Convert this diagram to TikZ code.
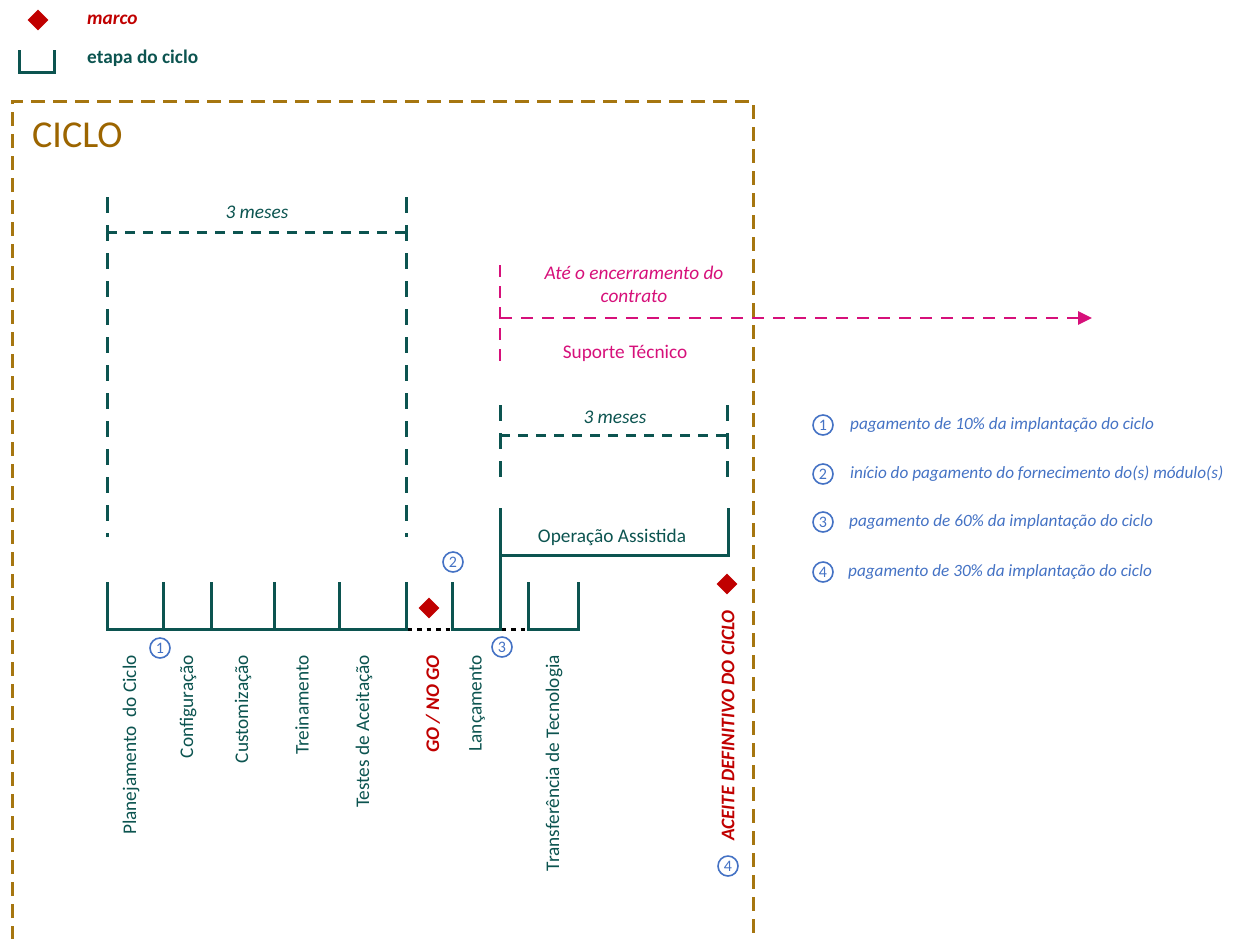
\documentclass[tikz,border=0pt]{standalone}
\usepackage{fontspec}
\setmainfont{Carlito}
\usetikzlibrary{arrows.meta,shapes.geometric}
\definecolor{tealc}{RGB}{12,84,80}
\definecolor{redc}{RGB}{192,0,0}
\definecolor{goldc}{RGB}{166,118,16}
\definecolor{cicloc}{RGB}{156,101,0}
\definecolor{magc}{RGB}{214,16,122}
\definecolor{bluec}{RGB}{68,114,196}
\tikzset{
  txt/.style={font=\fontsize{19.3}{23}\selectfont, inner sep=0pt},
  lbl/.style={txt, text=tealc, rotate=90, anchor=east},
  marcodiam/.style={diamond, fill=redc, minimum size=21pt, inner sep=0pt},
  num/.style={circle, draw=bluec, line width=1.6pt, minimum size=20pt, inner sep=0pt, text=bluec, font=\fontsize{16}{16}\selectfont},
  solidteal/.style={draw=tealc, line width=3pt},
  dashteal/.style={draw=tealc, line width=3pt, dash pattern=on 10pt off 8pt},
  vdashteal/.style={draw=tealc, line width=3pt, dash pattern=on 16pt off 12pt},
  goldline/.style={draw=goldc, line width=3pt, dash pattern=on 14pt off 8pt},
  magline/.style={draw=magc, line width=2.8pt, dash pattern=on 12pt off 9pt},
  dotline/.style={draw=black, line width=3pt, dash pattern=on 4.5pt off 5pt},
  legtxt/.style={font=\fontsize{17.2}{20}\selectfont\itshape, text=bluec, anchor=west, inner sep=0pt},
}
\begin{document}
\begin{tikzpicture}[x=1pt,y=-1pt]
\useasboundingbox (0,0) rectangle (1238,938);
% legend
\node[marcodiam] (legm) at (38,20) {};
\node[txt, anchor=west, text=redc, font=\fontsize{19.3}{23}\selectfont\bfseries\itshape] (legmt) at (87,20) {marco};
\draw[solidteal] (19,50) -- (19,72) -- (54,72) -- (54,50);
\node[txt, anchor=west, text=tealc, font=\fontsize{19.3}{23}\selectfont\bfseries] (leget) at (87,58) {etapa do ciclo};
% ciclo box
\draw[goldline] (12,940) -- (12,101) -- (753,101) -- (753,940);
\node[anchor=west, text=cicloc, font=\fontsize{38}{40}\selectfont, inner sep=0pt] (ciclo) at (32,135) {CICLO};
% top 3 meses bracket
\draw[vdashteal] (107,197) -- (107,537);
\draw[vdashteal] (406,197) -- (406,537);
\draw[dashteal] (107,232) -- (406,232);
\node[txt, text=tealc, font=\fontsize{19.3}{23}\selectfont\itshape] (m1) at (257,212) {3 meses};
% timeline
\draw[solidteal] (107,582) -- (107,629) -- (406,629) -- (406,582);
\foreach \x in {163,211,274,339} \draw[solidteal] (\x,582) -- (\x,629);
\draw[dotline] (407.5,629) -- (452,629);
\draw[solidteal] (452,582) -- (452,629) -- (500,629) -- (500,508);
\draw[dotline] (501.5,629) -- (528,629);
\draw[solidteal] (528,582) -- (528,629) -- (578,629) -- (578,582);
\node[marcodiam] (gonogo) at (429,608) {};
% operacao assistida
\draw[solidteal] (500,555) -- (728,555) -- (728,508);
\node[txt, text=tealc] (oa) at (612,537) {Operação Assistida};
\draw[vdashteal] (500,405) -- (500,478);
\draw[vdashteal] (727,405) -- (727,478);
\draw[dashteal] (500,435) -- (727,435);
\node[txt, text=tealc, font=\fontsize{19.3}{23}\selectfont\itshape] (m2) at (615,417) {3 meses};
% suporte tecnico
\draw[magline] (500,265) -- (500,365);
\coordinate (arrowend) at (1092,318);
\draw[magline, -{Triangle[length=14pt,width=13pt]}] (500,318) -- (arrowend);
\node[txt, text=magc, align=center, font=\fontsize{19.3}{23}\selectfont\itshape] (ate) at (634,284) {Até o encerramento do\\contrato};
\node[txt, text=magc] (sup) at (625,353) {Suporte Técnico};
% labels
\node[lbl] (l1) at (131,655) {Planejamento~ do Ciclo};
\node[lbl] (l2) at (188,655) {Configuração};
\node[lbl] (l3) at (243,655) {Customização};
\node[lbl] (l4) at (302,655) {Treinamento};
\node[lbl] (l5) at (364,655) {Testes de Aceitação};
\node[lbl, text=redc, font=\fontsize{19.3}{23}\selectfont\bfseries\itshape] (l6) at (433,655) {GO / NO GO};
\node[lbl] (l7) at (477,655) {Lançamento};
\node[lbl] (l8) at (554,655) {Transferência de Tecnologia};
\node[marcodiam] (aceite) at (727,584) {};
\node[lbl, text=redc, font=\fontsize{19.3}{23}\selectfont\bfseries\itshape] (l9) at (728,610) {ACEITE DEFINITIVO DO CICLO};
% numbers
\node[num] (n1) at (160,648) {1};
\node[num] (n2) at (453,562) {2};
\node[num] (n3) at (502,647) {3};
\node[num] (n4) at (728,866) {4};
% right legend
\node[num] (r1) at (823,425) {1};
\node[num] (r2) at (823,474) {2};
\node[num] (r3) at (823,522) {3};
\node[num] (r4) at (823,572) {4};
\node[legtxt] (t1) at (850,425) {pagamento de 10\% da implantação do ciclo};
\node[legtxt] (t2) at (850,474) {início do pagamento do fornecimento do(s) módulo(s)};
\node[legtxt] (t3) at (849,522) {pagamento de 60\% da implantação do ciclo};
\node[legtxt] (t4) at (848,572) {pagamento de 30\% da implantação do ciclo};
\end{tikzpicture}
\end{document}
